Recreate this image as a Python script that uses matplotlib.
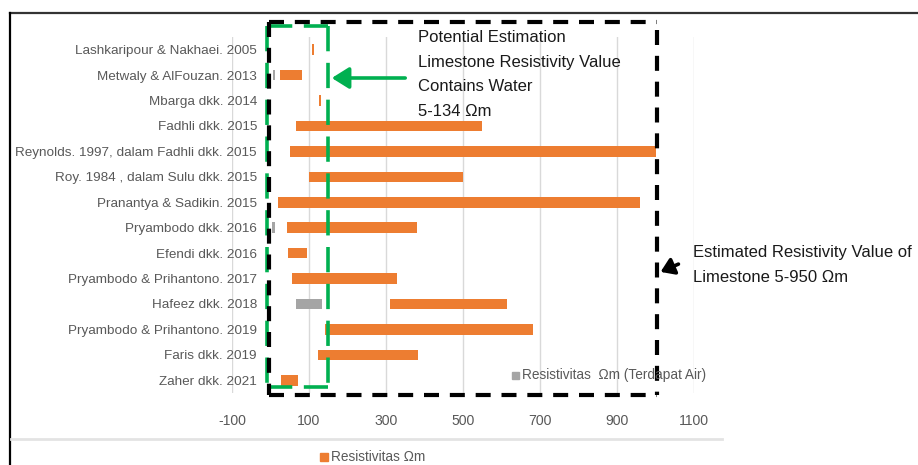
import numpy as np
import matplotlib
matplotlib.use("Agg")
import matplotlib.pyplot as plt
from matplotlib import font_manager
from matplotlib.patches import Rectangle, FancyArrowPatch
from matplotlib.lines import Line2D

# ---------------- data ----------------
categories = [
    "Lashkaripour & Nakhaei. 2005",
    "Metwaly & AlFouzan. 2013",
    "Mbarga dkk. 2014",
    "Fadhli dkk. 2015",
    "Reynolds. 1997, dalam Fadhli dkk. 2015",
    "Roy. 1984 , dalam Sulu dkk. 2015",
    "Pranantya & Sadikin. 2015",
    "Pryambodo dkk. 2016",
    "Efendi dkk. 2016",
    "Pryambodo & Prihantono. 2017",
    "Hafeez dkk. 2018",
    "Pryambodo & Prihantono. 2019",
    "Faris dkk. 2019",
    "Zaher dkk. 2021",
]
res_min = [108, 25, 126, 66, 50, 100, 20, 42, 45, 56, 310, 141, 124, 27]
res_max = [113, 82, 132, 550, 1000, 500, 960, 380, 95, 328, 613, 682, 383, 71]
water_min = [np.nan, 7, np.nan, np.nan, np.nan, np.nan, np.nan, 4, np.nan, np.nan, 65, np.nan, np.nan, np.nan]
water_max = [np.nan, 12, np.nan, np.nan, np.nan, np.nan, np.nan, 12, np.nan, np.nan, 134, np.nan, np.nan, np.nan]
x_ticks = [-100, 100, 300, 500, 700, 900, 1100]
series_names = ["Resistivitas \u03a9m", "Resistivitas  \u03a9m (Terdapat Air)"]

# ---------------- fonts ----------------
avail = {f.name for f in font_manager.fontManager.ttflist}
if "Liberation Sans Narrow" in avail:
    label_font = ["Liberation Sans Narrow", "DejaVu Sans"]
    lab_size = 11.2
else:
    label_font = ["Liberation Sans", "DejaVu Sans"]
    lab_size = 9.7
ann_font = ["Liberation Sans", "DejaVu Sans"]

W, H = 918, 465
fig = plt.figure(figsize=(W / 100, H / 100), dpi=100)
fig.patch.set_facecolor("white")

def fx(x):
    return x / W

def fy(y):
    return 1 - y / H

# axes placement (pixels): x from 232 (-100) to 694 (1100); y from 37 to 393
ax = fig.add_axes([fx(232), fy(393), (694 - 232) / W, (393 - 37) / H])
ax.set_xlim(-100, 1100)
ax.set_ylim(len(categories) - 0.5, -0.5)

ypos = np.arange(len(categories))
orange = "#ED7D31"
grey = "#A5A5A5"
txtgrey = "#595959"

wmin = np.array(water_min, dtype=float)
wmax = np.array(water_max, dtype=float)
ax.barh(ypos, np.array(res_max) - np.array(res_min), left=res_min, height=0.42,
        color=orange, zorder=3)
ax.barh(ypos, wmax - wmin, left=wmin, height=0.42, color=grey, zorder=3)

ax.set_xticks(x_ticks)
ax.set_xticklabels([str(t) for t in x_ticks], family=label_font, size=lab_size + 0.4, color=txtgrey)
ax.set_yticks(ypos)
ax.set_yticklabels(categories, family=label_font, size=lab_size, color=txtgrey)
ax.tick_params(axis="both", length=0)
ax.tick_params(axis="x", pad=15)
# category labels end near the zero axis (about 25 px right of the -100 gridline)
ax.tick_params(axis="y", pad=-18)
ax.grid(axis="x", color="#D9D9D9", lw=1.0, zorder=0)
for s in ax.spines.values():
    s.set_visible(False)
ax.set_facecolor("none")

# ---------------- decorations in figure pixel coords ----------------
def fline(xs, ys, **kw):
    fig.add_artist(Line2D([fx(x) for x in xs], [fy(y) for y in ys], transform=fig.transFigure, **kw))

# outer frame
fline([10, 918], [13, 13], color="#333333", lw=1.6)
fline([10, 10], [13, 465], color="black", lw=1.6)
# faint chart bottom separator
fline([11, 722], [439, 439], color="#E3E3E3", lw=2)

# green dashed rectangle
gkw = dict(color="#00B050", lw=2.6, linestyle=(0, (7.0, 3.2)), solid_capstyle="butt", dash_capstyle="butt")
fline([267, 267], [26, 387], **gkw)
fline([328, 328], [26, 387], **gkw)
fline([267, 328], [26, 26], **gkw)
fline([267, 328], [387, 387], **gkw)

# black dashed rectangle
bkw = dict(color="black", lw=3.0, linestyle=(0, (3.6, 2.6)), dash_capstyle="butt")
fline([269, 657], [22, 22], **bkw)
fline([269, 269], [22, 395], **bkw)
fline([269, 657], [395, 395], **bkw)
fline([657, 657], [30, 395], **bkw)

# green arrow
fig.add_artist(FancyArrowPatch((fx(408), fy(78)), (fx(329), fy(78)), transform=fig.transFigure,
                               arrowstyle="-|>,head_length=8,head_width=5", color="#00B050",
                               lw=2.6, mutation_scale=1.3))
# black arrow
fig.add_artist(FancyArrowPatch((fx(681), fy(263)), (fx(658), fy(273)), transform=fig.transFigure,
                               arrowstyle="-|>,head_length=6,head_width=4", color="black",
                               lw=2.6, mutation_scale=1.3))

# annotation texts
for i, line in enumerate(["Potential Estimation", "Limestone Resistivity Value",
                          "Contains Water", "5-134 \u03a9m"]):
    fig.text(fx(418), fy(42 + i * 24.5), line, family=ann_font, size=12, color="#1a1a1a",
             ha="left", va="baseline")
for i, line in enumerate(["Estimated Resistivity Value of", "Limestone 5-950 \u03a9m"]):
    fig.text(fx(693), fy(257 + i * 24.5), line, family=ann_font, size=12, color="#1a1a1a",
             ha="left", va="baseline")

# legends
fig.add_artist(Rectangle((fx(512), fy(379)), 7 / W, 7 / H, transform=fig.transFigure, color=grey))
fig.text(fx(522), fy(375), series_names[1], family=label_font, size=lab_size + 0.1, color=txtgrey,
         ha="left", va="center")
fig.add_artist(Rectangle((fx(320), fy(461)), 8 / W, 8 / H, transform=fig.transFigure, color=orange))
fig.text(fx(331), fy(457), series_names[0], family=label_font, size=lab_size + 0.1, color=txtgrey,
         ha="left", va="center")

fig.savefig("out.png", dpi=100, facecolor="white")
